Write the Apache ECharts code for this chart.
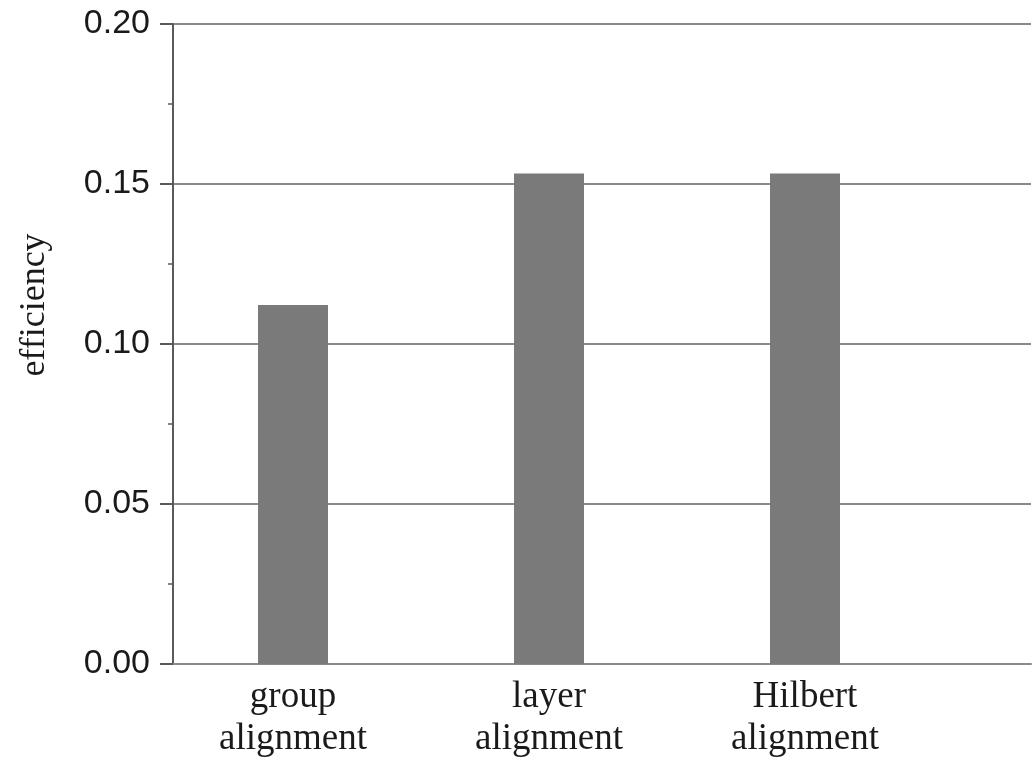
<!DOCTYPE html>
<html>
<head>
<meta charset="utf-8">
<script src="https://cdn.jsdelivr.net/npm/echarts@6/dist/echarts.min.js"></script>
<style>
html,body{margin:0;padding:0;background:#fff;}
#chart{width:1034px;height:761px;}
</style>
</head>
<body>
<div id="chart"></div>
<script>
var categories = ['group\nalignment', 'layer\nalignment', 'Hilbert\nalignment'];
var efficiency = [0.1122, 0.1533, 0.1533];
var yTicks = [0, 0.05, 0.10, 0.15, 0.20];
var yTitle = 'efficiency';

var chart = echarts.init(document.getElementById('chart'));
var option = {
  backgroundColor: '#ffffff',
  animation: false,
  grid: [
    {left: 173, right: 3, top: 24, bottom: 97},
    {left: 165, width: 768, top: 24, bottom: 97}
  ],
  graphic: [{
    type: 'text',
    x: 35, y: 305,
    rotation: Math.PI / 2,
    style: {
      text: yTitle,
      font: '36px "Liberation Serif", serif',
      fill: '#1a1a1a',
      align: 'center',
      verticalAlign: 'middle'
    }
  }],
  xAxis: [
    {
      gridIndex: 0, type: 'value', min: 0, max: 1,
      axisLine: {show: true, onZero: false, lineStyle: {color: '#8a8a8a', width: 2}},
      axisTick: {show: false}, axisLabel: {show: false}, splitLine: {show: false}
    },
    {
      gridIndex: 1, type: 'category', data: categories,
      axisLine: {show: false}, axisTick: {show: false},
      axisLabel: {
        margin: 12, color: '#1a1a1a',
        fontFamily: '"Liberation Serif", serif', fontSize: 37, lineHeight: 42
      }
    }
  ],
  yAxis: [
    {
      gridIndex: 0, type: 'value', min: yTicks[0], max: yTicks[yTicks.length - 1], interval: 0.05,
      axisLine: {show: true, lineStyle: {color: '#5a5a5a', width: 2}},
      axisTick: {show: true, inside: false, length: 13, lineStyle: {color: '#5a5a5a', width: 2}},
      minorTick: {show: true, splitNumber: 2, length: 5, lineStyle: {color: '#5a5a5a', width: 1.5}},
      axisLabel: {
        margin: 23, color: '#1a1a1a',
        fontFamily: '"Liberation Sans", Arial, sans-serif', fontSize: 34,
        formatter: function (v) { return v.toFixed(2); }
      },
      splitLine: {show: true, lineStyle: {color: '#8a8a8a', width: 2}}
    },
    {
      gridIndex: 1, type: 'value', min: yTicks[0], max: yTicks[yTicks.length - 1], show: false
    }
  ],
  series: [{
    type: 'bar',
    xAxisIndex: 1, yAxisIndex: 1,
    data: efficiency,
    barWidth: 70,
    itemStyle: {color: '#7a7a7a'}
  }]
};
chart.setOption(option);
</script>
</body>
</html>
